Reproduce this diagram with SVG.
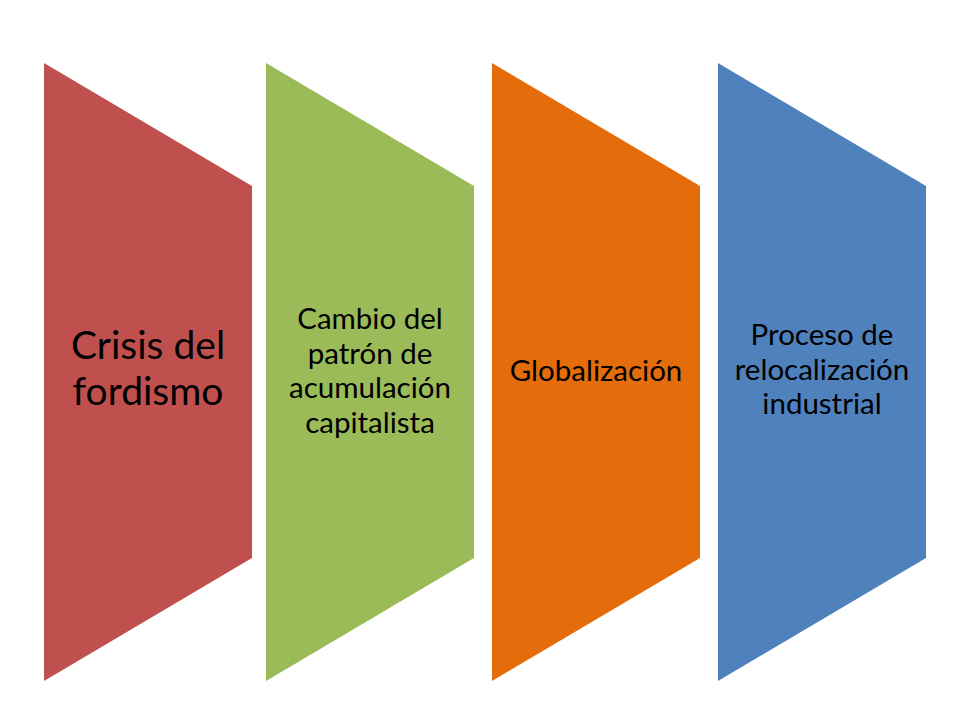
<svg xmlns="http://www.w3.org/2000/svg" width="960" height="720" viewBox="0 0 960 720">
<style>
text{font-family:Lato,"Open Sans","Liberation Sans",sans-serif;fill:#000;text-anchor:middle}
.big{font-size:39px}
.sm{font-size:29.5px}
</style>
<rect width="960" height="720" fill="#fff"/>
<g id="node1">
<polygon points="44,63 252,186 252,558 44,681" fill="#C0504D"/>
<text class="big" x="148" y="359">Crisis del</text>
<text class="big" x="148" y="405">fordismo</text>
</g>
<g id="node2">
<polygon points="266,63 474,186 474,558 266,681" fill="#9BBB59"/>
<text class="sm" x="370" y="329">Cambio del</text>
<text class="sm" x="370" y="364">patrón de</text>
<text class="sm" x="370" y="398">acumulación</text>
<text class="sm" x="370" y="433">capitalista</text>
</g>
<g id="node3">
<polygon points="492,63 700,186 700,558 492,681" fill="#E46C0A"/>
<text class="sm" x="596" y="381">Globalización</text>
</g>
<g id="node4">
<polygon points="718,63 926,186 926,558 718,681" fill="#4F81BD"/>
<text class="sm" x="822" y="345">Proceso de</text>
<text class="sm" x="822" y="380">relocalización</text>
<text class="sm" x="822" y="414">industrial</text>
</g>
<g id="connectors"></g>
</svg>
